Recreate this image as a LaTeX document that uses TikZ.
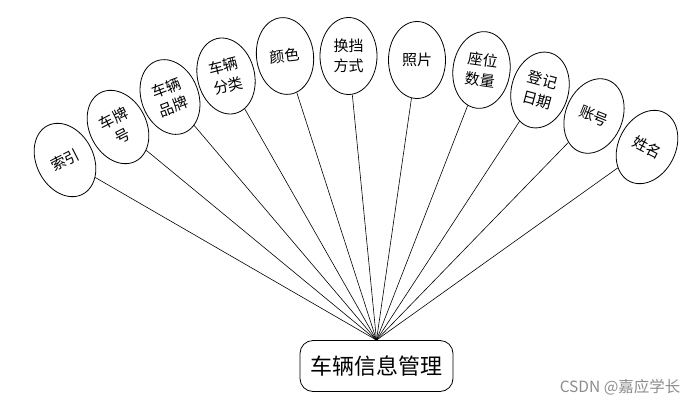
\documentclass[tikz,border=0pt]{standalone}
\usepackage{fontspec}
\setmainfont{Noto Sans CJK SC}
\usetikzlibrary{shapes.geometric}
\begin{document}
\begin{tikzpicture}[x=1pt,y=-1pt,
  attr/.style={draw, ellipse, line width=0.8pt, minimum width=57pt, minimum height=77pt, inner sep=0pt, align=center, font=\fontsize{15}{20}\selectfont},
  mainbox/.style={draw, rounded corners=13pt, line width=0.8pt, minimum width=153pt, minimum height=51pt, inner sep=0pt, font=\fontsize{22}{26}\selectfont},
  link/.style={line width=0.6pt},
  wmark/.style={text=black!45, font=\fontsize{15.5}{18}\selectfont, anchor=east}]
\useasboundingbox (0,0) rectangle (699,407);
\node[mainbox] (m) at (376.5,366) {车辆信息管理};
\coordinate (hub) at (m.north);
\node[attr, rotate=27] (a1) at (65,160) {索引};
\node[attr, rotate=27] (a2) at (118,127) {车牌\\号};
\node[attr, rotate=21] (a3) at (170,97) {车辆\\品牌};
\node[attr, rotate=14] (a4) at (226,76) {车辆\\分类};
\node[attr, rotate=7] (a5) at (285,56) {颜色};
\node[attr, rotate=0] (a6) at (348.5,56) {换挡\\方式};
\node[attr, rotate=0] (a7) at (417,60) {照片};
\node[attr, rotate=-8] (a8) at (481.5,70) {座位\\数量};
\node[attr, rotate=-15] (a9) at (540,90) {登记\\日期};
\node[attr, rotate=-22] (a10) at (594,116) {账号};
\node[attr, rotate=-27] (a11) at (647,147) {姓名};
\foreach \i in {1,...,11} \draw[link] (hub) -- (a\i);
\node[wmark] (wm) at (684,387) {CSDN @嘉应学长};
\end{tikzpicture}
\end{document}
